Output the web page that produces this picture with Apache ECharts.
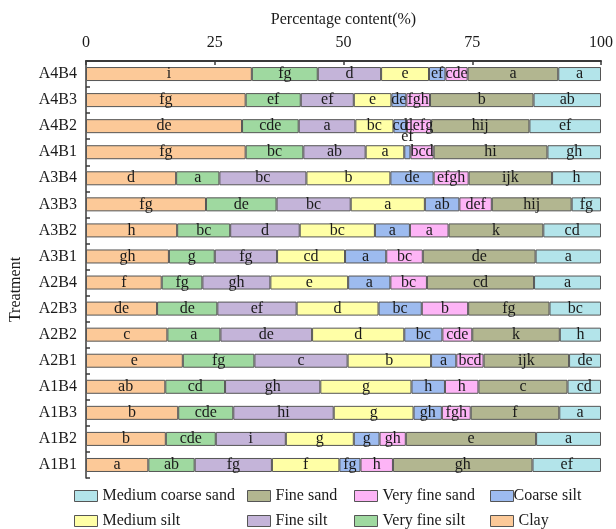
<!DOCTYPE html>
<html>
<head>
<meta charset="utf-8">
<script src="https://cdn.jsdelivr.net/npm/echarts@6/dist/echarts.min.js"></script>
<style>
  html, body { margin: 0; padding: 0; background: #fff; }
  #chart { width: 616px; height: 529px; }
</style>
</head>
<body>
<div id="chart"></div>
<script>
// Treatments, listed top to bottom
const treatments = ['A4B4', 'A4B3', 'A4B2', 'A4B1', 'A3B4', 'A3B3', 'A3B2', 'A3B1',
                    'A2B4', 'A2B3', 'A2B2', 'A2B1', 'A1B4', 'A1B3', 'A1B2', 'A1B1'];

const xTicks = [0, 25, 50, 75, 100];

// Particle size fractions (%), one value per treatment
const clay             = [32.2, 31.0, 30.3, 31.0, 17.5, 23.3, 17.7, 16.1, 14.7, 13.8, 15.8, 18.8, 15.4, 17.9, 15.5, 12.1];
const veryFineSilt     = [12.8, 10.7, 11.0, 11.2,  8.4, 13.7, 10.3,  8.9,  7.9, 11.7, 10.3, 13.9, 11.6, 10.7,  9.7,  9.0];
const fineSilt         = [12.3, 10.3, 11.0, 12.1, 16.9, 14.4, 13.5, 12.1, 13.2, 15.4, 17.8, 18.1, 18.5, 19.5, 13.6, 15.0];
const mediumSilt       = [ 9.3,  7.3,  7.4,  7.5, 16.3, 14.4, 14.6, 13.2, 15.1, 15.9, 17.9, 16.2, 17.7, 15.5, 13.2, 13.1];
const coarseSilt       = [ 3.2,  2.9,  2.6,  1.2,  8.4,  6.7,  6.8,  8.0,  8.2,  8.4,  7.4,  4.9,  6.5,  5.5,  5.0,  4.1];
const veryFineSand     = [ 4.3,  4.6,  4.7,  4.5,  6.8,  6.3,  7.5,  7.1,  7.1,  9.0,  5.8,  5.3,  6.5,  5.6,  5.1,  6.3];
const fineSand         = [17.6, 20.1, 19.1, 22.1, 16.2, 15.5, 18.4, 21.9, 20.8, 15.8, 17.0, 16.6, 17.3, 17.2, 25.3, 27.1];
const mediumCoarseSand = [ 8.3, 13.1, 13.9, 10.4,  9.5,  5.7, 11.2, 12.7, 13.0, 10.0,  8.0,  6.2,  6.5,  8.1, 12.6, 13.3];

// Significance letters, one per treatment
const clayLetters             = ['i', 'fg', 'de', 'fg', 'd', 'fg', 'h', 'gh', 'f', 'de', 'c', 'e', 'ab', 'b', 'b', 'a'];
const veryFineSiltLetters     = ['fg', 'ef', 'cde', 'bc', 'a', 'de', 'bc', 'g', 'fg', 'de', 'a', 'fg', 'cd', 'cde', 'cde', 'ab'];
const fineSiltLetters         = ['d', 'ef', 'a', 'ab', 'bc', 'bc', 'd', 'fg', 'gh', 'ef', 'de', 'c', 'gh', 'hi', 'i', 'fg'];
const mediumSiltLetters       = ['e', 'e', 'bc', 'a', 'b', 'a', 'bc', 'cd', 'e', 'd', 'd', 'b', 'g', 'g', 'g', 'f'];
const coarseSiltLetters       = ['ef', 'de', 'cd', 'ef', 'de', 'ab', 'a', 'a', 'a', 'bc', 'bc', 'a', 'h', 'gh', 'g', 'fg'];
const veryFineSandLetters     = ['cde', 'fgh', 'defg', 'bcd', 'efgh', 'def', 'a', 'bc', 'bc', 'b', 'cde', 'bcd', 'h', 'fgh', 'gh', 'h'];
const fineSandLetters         = ['a', 'b', 'hij', 'hi', 'ijk', 'hij', 'k', 'de', 'cd', 'fg', 'k', 'ijk', 'c', 'f', 'e', 'gh'];
const mediumCoarseSandLetters = ['a', 'ab', 'ef', 'gh', 'h', 'fg', 'cd', 'a', 'a', 'bc', 'h', 'de', 'cd', 'a', 'a', 'ef'];

const FONT = '"Liberation Serif", "Times New Roman", serif';
const TEXT = '#1a1a1a';
const EDGE = '#555555';

const fractions = [
  { name: 'Clay',               values: clay,             letters: clayLetters,             color: '#FCC998' },
  { name: 'Very fine silt',     values: veryFineSilt,     letters: veryFineSiltLetters,     color: '#9FD9A0' },
  { name: 'Fine silt',          values: fineSilt,         letters: fineSiltLetters,         color: '#C4B4D9' },
  { name: 'Medium silt',        values: mediumSilt,       letters: mediumSiltLetters,       color: '#FFFFA6' },
  { name: 'Coarse silt',        values: coarseSilt,       letters: coarseSiltLetters,       color: '#9DBBEF' },
  { name: 'Very fine sand',     values: veryFineSand,     letters: veryFineSandLetters,     color: '#FDB4F6' },
  { name: 'Fine sand',          values: fineSand,         letters: fineSandLetters,         color: '#B2B690' },
  { name: 'Medium coarse sand', values: mediumCoarseSand, letters: mediumCoarseSandLetters, color: '#B3E4EA' }
];

// Segments too thin for their letters get the label placed above the bar
const labelAbove = { 'Coarse silt': ['A4B1'] };

const series = fractions.map(f => ({
  name: f.name,
  type: 'bar',
  stack: 'total',
  barWidth: 14,
  itemStyle: { color: f.color, borderColor: EDGE, borderWidth: 1 },
  label: {
    show: true,
    position: 'inside',
    fontFamily: FONT,
    fontSize: 16,
    color: TEXT,
    formatter: p => f.letters[p.dataIndex]
  },
  data: f.values.map((v, i) => {
    const above = (labelAbove[f.name] || []).includes(treatments[i]);
    return above
      ? { value: v, label: { position: 'top', distance: 0 } }
      : v;
  })
}));

// Legend laid out as a fixed two-row grid
const legendSlots = [
  { name: 'Medium coarse sand', left: 74,  top: 488 },
  { name: 'Fine sand',          left: 247, top: 488 },
  { name: 'Very fine sand',     left: 354, top: 488 },
  { name: 'Coarse silt',        left: 490, top: 488, tight: true },
  { name: 'Medium silt',        left: 74,  top: 513 },
  { name: 'Fine silt',          left: 247, top: 513 },
  { name: 'Very fine silt',     left: 354, top: 513 },
  { name: 'Clay',               left: 490, top: 513 }
];

const legend = legendSlots.map(s => ({
  data: [s.name],
  left: s.left,
  top: s.top,
  padding: 0,
  orient: 'horizontal',
  icon: 'rect',
  itemWidth: 23,
  itemHeight: 11,
  selectedMode: false,
  itemStyle: { borderColor: EDGE, borderWidth: 1 },
  textStyle: {
    fontFamily: FONT,
    fontSize: 16,
    color: TEXT,
    padding: s.tight ? [0, 0, 0, -5] : 0
  }
}));

const chart = echarts.init(document.getElementById('chart'), null, { renderer: 'canvas' });

chart.setOption({
  animation: false,
  backgroundColor: '#fff',
  grid: { left: 86, right: 12, top: 61, height: 417 },
  legend: legend,
  xAxis: {
    type: 'value',
    position: 'top',
    min: xTicks[0],
    max: xTicks[xTicks.length - 1],
    interval: xTicks[1] - xTicks[0],
    name: 'Percentage content(%)',
    nameLocation: 'middle',
    nameGap: 33,
    nameTextStyle: { fontFamily: FONT, fontSize: 16, color: TEXT },
    axisLine: { show: true, lineStyle: { color: '#3a3a3a', width: 2 } },
    axisTick: { show: true, inside: true, length: 4, lineStyle: { color: '#3a3a3a', width: 1.5 } },
    axisLabel: { fontFamily: FONT, fontSize: 16, color: TEXT, margin: 10 },
    splitLine: { show: false }
  },
  yAxis: {
    type: 'category',
    inverse: true,
    data: treatments,
    name: 'Treatment',
    nameLocation: 'middle',
    nameGap: 62,
    nameRotate: 90,
    nameTextStyle: { fontFamily: FONT, fontSize: 16, color: TEXT, padding: [0, 40, 0, 0] },
    axisLine: { show: true, lineStyle: { color: '#3a3a3a', width: 1.5 } },
    axisTick: { show: true, inside: true, length: 4, lineStyle: { color: '#3a3a3a', width: 1.5 } },
    axisLabel: { fontFamily: FONT, fontSize: 16, color: TEXT, margin: 9 },
    splitLine: { show: false }
  },
  series: series
});
</script>
</body>
</html>
